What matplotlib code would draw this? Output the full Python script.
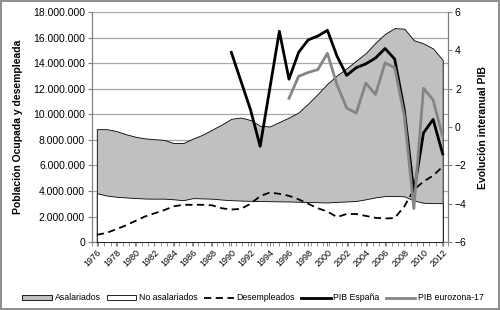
import numpy as np
import matplotlib.pyplot as plt
from matplotlib.ticker import FuncFormatter
from matplotlib.patches import Patch
from matplotlib.lines import Line2D

plt.rcParams['font.family'] = ['Liberation Sans', 'DejaVu Sans']

# datos (millones de personas)
years = np.arange(1976, 2013)
asalariados = [8.84, 8.84, 8.70, 8.45, 8.25, 8.12, 8.05, 8.00, 7.75, 7.75,
               8.10, 8.40, 8.80, 9.20, 9.65, 9.75, 9.55, 9.10, 9.05, 9.40,
               9.75, 10.15, 10.85, 11.60, 12.40, 13.05, 13.60, 14.20, 14.80, 15.60,
               16.30, 16.75, 16.70, 15.80, 15.55, 15.15, 14.25]
no_asalariados = [3.83, 3.65, 3.55, 3.50, 3.45, 3.41, 3.40, 3.40, 3.35, 3.28,
                  3.44, 3.42, 3.40, 3.33, 3.28, 3.25, 3.23, 3.22, 3.20, 3.19,
                  3.18, 3.16, 3.14, 3.12, 3.10, 3.15, 3.18, 3.22, 3.35, 3.50,
                  3.60, 3.62, 3.58, 3.25, 3.08, 3.05, 3.05]
desempleados = [0.57, 0.72, 1.00, 1.30, 1.65, 2.00, 2.25, 2.50, 2.80, 2.92,
                2.92, 2.92, 2.88, 2.65, 2.55, 2.60, 3.00, 3.60, 3.88, 3.78,
                3.62, 3.35, 3.00, 2.65, 2.39, 1.96, 2.20, 2.20, 2.05, 1.90,
                1.85, 1.88, 2.79, 4.10, 4.74, 5.20, 5.91]

pib_years = np.arange(1990, 2013)
pib_espana = [3.9, 2.4, 0.9, -1.0, 2.0, 5.0, 2.5, 3.9, 4.55, 4.75, 5.05, 3.7,
              2.7, 3.1, 3.3, 3.6, 4.1, 3.55, 0.9, -3.4, -0.3, 0.4, -1.4]
euro_years = np.arange(1996, 2013)
pib_euro = [1.5, 2.65, 2.85, 3.0, 3.85, 2.2, 1.0, 0.73, 2.3, 1.7, 3.35, 3.1,
            0.6, -4.25, 2.03, 1.42, -0.5]

M = 1e6
fig = plt.figure(figsize=(5, 3.1), dpi=100)
fig.patch.set_edgecolor('#909090')
fig.patch.set_linewidth(1.5)
ax = fig.add_axes([0.184, 0.219, 0.712, 0.742])

ax.fill_between(years, np.array(asalariados) * M, color='#c0c0c0',
                edgecolor='black', linewidth=0.6, zorder=2)
ax.fill_between(years, np.array(no_asalariados) * M, color='white',
                edgecolor='black', linewidth=0.6, zorder=3)
ax.plot(years, np.array(desempleados) * M, color='black', lw=1.3,
        dashes=(4, 2.5), zorder=4)

ax.set_xlim(1975.5, 2012.5)
ax.set_ylim(0, 18 * M)
ax.set_yticks(np.arange(0, 18.1, 2) * M)
ax.yaxis.set_major_formatter(FuncFormatter(lambda v, p: f"{int(v):,}".replace(",", ".")))
ax.grid(axis='y', color='#a8a8a8', lw=0.9, zorder=1)
ax.set_axisbelow(True)
ax.set_xticks(years[::2])
ax.set_xticklabels([str(y) for y in years[::2]], rotation=45, ha='right',
                   rotation_mode='anchor', fontsize=6.5)
ax.set_xticks(np.arange(1975.5, 2012.6, 0.65), minor=True)
ax.tick_params(axis='y', labelsize=7.5, length=3, color='#808080', pad=2)
ax.tick_params(axis='x', which='both', length=3, color='#808080', pad=1)

ax2 = ax.twinx()
ax2.plot(pib_years, pib_espana, color='black', lw=2.0, zorder=5)
ax2.plot(euro_years, pib_euro, color='#858585', lw=2.0, zorder=5)
ax2.set_ylim(-6, 6)
ax2.set_yticks(range(-6, 7, 2))
ax2.tick_params(axis='y', labelsize=7.5, length=3, color='#808080', pad=2)

for a in (ax, ax2):
    a.spines['top'].set_visible(False)
    for s in ('left', 'right', 'bottom'):
        a.spines[s].set_color('#808080')
ax2.spines['bottom'].set_visible(False)

fig.text(0.036, 0.59, 'Población Ocupada y desempleada', rotation=90,
         ha='center', va='center', fontsize=7.5, fontweight='bold')
fig.text(0.966, 0.59, 'Evolución interanual PIB', rotation=90,
         ha='center', va='center', fontsize=7.5, fontweight='bold')

handles = [
    Patch(facecolor='#c0c0c0', edgecolor='black', linewidth=0.6),
    Patch(facecolor='white', edgecolor='black', linewidth=0.6),
    Line2D([], [], color='black', lw=1.3, dashes=(4, 2.5)),
    Line2D([], [], color='black', lw=2.0),
    Line2D([], [], color='#858585', lw=2.0),
]
labels = ['Asalariados', 'No asalariados', 'Desempleados', 'PIB España', 'PIB eurozona-17']
fig.legend(handles, labels, loc='center', bbox_to_anchor=(0.506, 1 - 298 / 310),
           ncol=5, frameon=False, fontsize=6.3, handlelength=3.4,
           handleheight=0.5, handletextpad=0.3, columnspacing=0.7)

fig.savefig('out.png', dpi=100)
